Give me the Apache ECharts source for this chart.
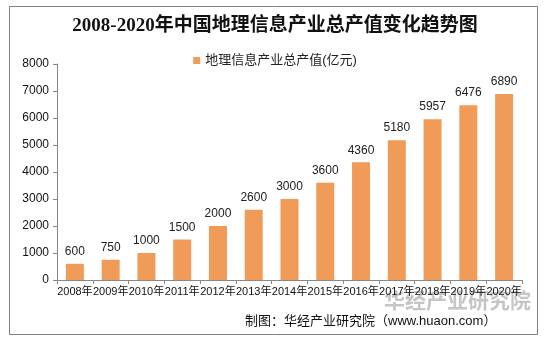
<!DOCTYPE html>
<html><head><meta charset="utf-8">
<script src="https://cdn.jsdelivr.net/npm/echarts@6/dist/echarts.min.js"></script>
<style>html,body{margin:0;padding:0;background:#fff}#c{width:550px;height:348px}</style>
</head><body><div id="c"></div>
<script>
const categories = ['2008年','2009年','2010年','2011年','2012年','2013年','2014年','2015年','2016年','2017年','2018年','2019年','2020年'];
const values = [600,750,1000,1500,2000,2600,3000,3600,4360,5180,5957,6476,6890];
const seriesName = '地理信息产业总产值(亿元)';
const titleText = '2008-2020年中国地理信息产业总产值变化趋势图';
const sourceText = '制图：华经产业研究院（www.huaon.com）';
const watermarkText = '华经产业研究院';

const chart = echarts.init(document.getElementById('c'), null, {renderer:'canvas'});
const sans = 'Arial, "Liberation Sans", "Noto Sans CJK SC", sans-serif';
chart.setOption({
  animation:false,
  backgroundColor:'#fff',
  title:{text:titleText,left:'center',top:12,
    textStyle:{fontSize:19,fontWeight:'bold',color:'#111',fontFamily:'"Liberation Serif","Noto Sans CJK SC",serif'}},
  legend:{data:[seriesName],top:49,left:'center',itemWidth:7,itemHeight:7,icon:'rect',itemGap:4,
    textStyle:{fontSize:13,color:'#222',fontFamily:sans}},
  grid:{left:57,right:28,top:64,bottom:68},
  xAxis:{type:'category',data:categories,
    axisLine:{lineStyle:{color:'#888'}},
    axisTick:{show:true,lineStyle:{color:'#888'},length:4},
    axisLabel:{interval:0,fontSize:11,color:'#111',margin:6,fontFamily:sans,hideOverlap:false}},
  yAxis:{type:'value',min:0,max:8000,interval:1000,
    axisLine:{show:true,lineStyle:{color:'#888'}},
    axisTick:{show:true,lineStyle:{color:'#888'},length:4},
    splitLine:{show:false},
    axisLabel:{fontSize:12,color:'#111',margin:8,fontFamily:sans,formatter:v=>String(v)}},
  series:[{name:seriesName,type:'bar',data:values,barWidth:18,
    itemStyle:{color:'#F09C58'},
    label:{show:true,position:'top',distance:6,fontSize:12,color:'#222',fontFamily:sans}}],
  graphic:[
    {type:'rect',shape:{x:9.5,y:6.5,width:528,height:328},style:{fill:null,stroke:'#808080',lineWidth:1},z:-1},
    {type:'text',left:384,top:290,style:{text:watermarkText,fontSize:21,fontWeight:'bold',fill:'rgba(150,150,150,0.55)',fontFamily:'"Noto Sans CJK SC",sans-serif'}},
    {type:'text',left:245,top:315,style:{text:sourceText,fontSize:13,fill:'#111',fontFamily:sans}}
  ]
});
</script></body></html>
